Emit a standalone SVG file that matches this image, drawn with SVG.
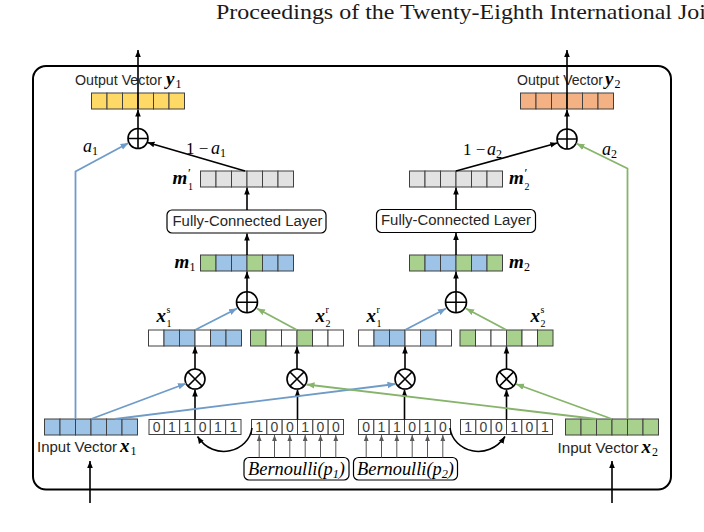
<svg xmlns="http://www.w3.org/2000/svg" width="704" height="532" viewBox="0 0 704 532">
<defs>
<style>
.c{stroke:#404040;stroke-width:1}
.b{fill:#9DC3E6}.g{fill:#A9D18E}.w{fill:#fff}.gy{fill:#E2E2E2}.au{fill:#FFD966}.or{fill:#F4B183}
.sans{font-family:"Liberation Sans",Arial,sans-serif;font-size:14px;fill:#262626}
.dig{font-family:"Liberation Sans",Arial,sans-serif;font-size:14px;fill:#404040;text-anchor:middle}
.mb{font-family:"Liberation Serif","Times New Roman",serif;font-style:italic;font-weight:bold;font-size:19px;fill:#000}
.mi{font-family:"Liberation Serif","Times New Roman",serif;font-style:italic;font-size:18px;fill:#000}
.mr{font-family:"Liberation Serif","Times New Roman",serif;font-size:17px;fill:#000}
.sub{font-family:"Liberation Serif","Times New Roman",serif;font-size:12px;fill:#000}
.ss{font-family:"Liberation Serif","Times New Roman",serif;font-size:10px;fill:#000}
.pr{font-family:"Liberation Serif","Times New Roman",serif;font-size:13px;fill:#000}
.k{stroke:#000;stroke-width:1.6;fill:none}
.bl{stroke:#6E9BC8;stroke-width:1.8;fill:none}
.gl{stroke:#86B46A;stroke-width:1.8;fill:none}
.gr{stroke:#595959;stroke-width:1;fill:none}
.op{fill:#fff;stroke:#000;stroke-width:1.6}
.box{fill:#fff;stroke:#000;stroke-width:1.2}
</style>
<marker id="ak" viewBox="0 0 10 10" refX="10" refY="5" markerWidth="7" markerHeight="7" markerUnits="userSpaceOnUse" orient="auto"><path d="M0,1 L10,5 L0,9 z" fill="#000"/></marker>
<marker id="ab" viewBox="0 0 10 10" refX="10" refY="5" markerWidth="8" markerHeight="8" markerUnits="userSpaceOnUse" orient="auto"><path d="M0,1 L10,5 L0,9 z" fill="#6E9BC8"/></marker>
<marker id="ag" viewBox="0 0 10 10" refX="10" refY="5" markerWidth="8" markerHeight="8" markerUnits="userSpaceOnUse" orient="auto"><path d="M0,1 L10,5 L0,9 z" fill="#86B46A"/></marker>
<marker id="ay" viewBox="0 0 10 10" refX="10" refY="5" markerWidth="6" markerHeight="6" markerUnits="userSpaceOnUse" orient="auto"><path d="M0,1 L10,5 L0,9 z" fill="#595959"/></marker>
</defs>
<rect width="704" height="532" fill="#fff"/>
<text x="216" y="19" font-family="Liberation Serif, Times New Roman, serif" font-size="21" fill="#1a1a1a" textLength="490" lengthAdjust="spacingAndGlyphs">Proceedings of the Twenty-Eighth International Joi</text>
<rect id="frame" x="33" y="66" width="638" height="423.5" rx="13" fill="none" stroke="#000" stroke-width="2"/>

<g id="out1">
<rect class="c au" x="91.5" y="93" width="15.5" height="16"/><rect class="c au" x="107" y="93" width="15.5" height="16"/><rect class="c au" x="122.5" y="93" width="15.5" height="16"/><rect class="c au" x="138" y="93" width="15.5" height="16"/><rect class="c au" x="153.5" y="93" width="15.5" height="16"/><rect class="c au" x="169" y="93" width="15.5" height="16"/>
<text class="sans" x="75" y="85" textLength="87" lengthAdjust="spacingAndGlyphs">Output Vector</text>
<text class="mb" x="166" y="85">y</text><text class="sub" x="175.5" y="88">1</text>
</g>
<g id="out2">
<rect class="c or" x="520.5" y="93" width="15.5" height="16"/><rect class="c or" x="536" y="93" width="15.5" height="16"/><rect class="c or" x="551.5" y="93" width="15.5" height="16"/><rect class="c or" x="567" y="93" width="15.5" height="16"/><rect class="c or" x="582.5" y="93" width="15.5" height="16"/><rect class="c or" x="598" y="93" width="15.5" height="16"/>
<text class="sans" x="517" y="85" textLength="86" lengthAdjust="spacingAndGlyphs">Output Vector</text>
<text class="mb" x="605" y="85">y</text><text class="sub" x="614.5" y="88">2</text>
</g>

<g id="mp1">
<rect class="c gy" x="200.5" y="171" width="15.5" height="16"/><rect class="c gy" x="216" y="171" width="15.5" height="16"/><rect class="c gy" x="231.5" y="171" width="15.5" height="16"/><rect class="c gy" x="247" y="171" width="15.5" height="16"/><rect class="c gy" x="262.5" y="171" width="15.5" height="16"/><rect class="c gy" x="278" y="171" width="15.5" height="16"/>
<text class="mb" x="172.5" y="184">m</text><text class="pr" x="188" y="177">′</text><text class="ss" x="188" y="190">1</text>
</g>
<g id="mp2">
<rect class="c gy" x="409.5" y="171" width="15.5" height="16"/><rect class="c gy" x="425" y="171" width="15.5" height="16"/><rect class="c gy" x="440.5" y="171" width="15.5" height="16"/><rect class="c gy" x="456" y="171" width="15.5" height="16"/><rect class="c gy" x="471.5" y="171" width="15.5" height="16"/><rect class="c gy" x="487" y="171" width="15.5" height="16"/>
<text class="mb" x="509" y="184">m</text><text class="pr" x="524.5" y="177">′</text><text class="ss" x="524.5" y="190">2</text>
</g>

<g id="fc1"><rect class="box" x="167" y="210" width="159" height="23" rx="5"/><text class="sans" x="172.5" y="225.5" textLength="150" lengthAdjust="spacingAndGlyphs">Fully-Connected Layer</text></g>
<g id="fc2"><rect class="box" x="376.5" y="209.5" width="159" height="23" rx="5"/><text class="sans" x="381" y="225" textLength="150" lengthAdjust="spacingAndGlyphs">Fully-Connected Layer</text></g>

<g id="m1">
<rect class="c g" x="200.5" y="255" width="15.5" height="16"/><rect class="c b" x="216" y="255" width="15.5" height="16"/><rect class="c b" x="231.5" y="255" width="15.5" height="16"/><rect class="c g" x="247" y="255" width="15.5" height="16"/><rect class="c b" x="262.5" y="255" width="15.5" height="16"/><rect class="c b" x="278" y="255" width="15.5" height="16"/>
<text class="mb" x="174.5" y="268">m</text><text class="sub" x="189.5" y="271">1</text>
</g>
<g id="m2">
<rect class="c g" x="409.5" y="255" width="15.5" height="16"/><rect class="c b" x="425" y="255" width="15.5" height="16"/><rect class="c b" x="440.5" y="255" width="15.5" height="16"/><rect class="c g" x="456" y="255" width="15.5" height="16"/><rect class="c b" x="471.5" y="255" width="15.5" height="16"/><rect class="c g" x="487" y="255" width="15.5" height="16"/>
<text class="mb" x="509" y="268">m</text><text class="sub" x="524" y="271">2</text>
</g>

<g id="x1s">
<rect class="c w" x="148.5" y="330" width="15.5" height="16"/><rect class="c b" x="164" y="330" width="15.5" height="16"/><rect class="c b" x="179.5" y="330" width="15.5" height="16"/><rect class="c w" x="195" y="330" width="15.5" height="16"/><rect class="c b" x="210.5" y="330" width="15.5" height="16"/><rect class="c b" x="226" y="330" width="15.5" height="16"/>
<text class="mb" x="156.5" y="322">x</text><text class="ss" x="166.5" y="313">s</text><text class="ss" x="166.5" y="327">1</text>
</g>
<g id="x2r">
<rect class="c g" x="250.5" y="330" width="15.5" height="16"/><rect class="c w" x="266" y="330" width="15.5" height="16"/><rect class="c w" x="281.5" y="330" width="15.5" height="16"/><rect class="c g" x="297" y="330" width="15.5" height="16"/><rect class="c w" x="312.5" y="330" width="15.5" height="16"/><rect class="c w" x="328" y="330" width="15.5" height="16"/>
<text class="mb" x="315.5" y="322">x</text><text class="ss" x="325.5" y="313">r</text><text class="ss" x="325.5" y="327">2</text>
</g>
<g id="x1r">
<rect class="c w" x="358.5" y="330" width="15.5" height="16"/><rect class="c b" x="374" y="330" width="15.5" height="16"/><rect class="c b" x="389.5" y="330" width="15.5" height="16"/><rect class="c w" x="405" y="330" width="15.5" height="16"/><rect class="c b" x="420.5" y="330" width="15.5" height="16"/><rect class="c w" x="436" y="330" width="15.5" height="16"/>
<text class="mb" x="366.5" y="322">x</text><text class="ss" x="376.5" y="313">r</text><text class="ss" x="376.5" y="327">1</text>
</g>
<g id="x2s">
<rect class="c g" x="460" y="330" width="15.5" height="16"/><rect class="c w" x="475.5" y="330" width="15.5" height="16"/><rect class="c w" x="491" y="330" width="15.5" height="16"/><rect class="c g" x="506.5" y="330" width="15.5" height="16"/><rect class="c w" x="522" y="330" width="15.5" height="16"/><rect class="c g" x="537.5" y="330" width="15.5" height="16"/>
<text class="mb" x="530.5" y="322">x</text><text class="ss" x="540.5" y="313">s</text><text class="ss" x="540.5" y="327">2</text>
</g>

<g id="mask1">
<rect class="c w" x="149" y="419.5" width="15.33" height="15"/><rect class="c w" x="164.33" y="419.5" width="15.33" height="15"/><rect class="c w" x="179.67" y="419.5" width="15.33" height="15"/><rect class="c w" x="195" y="419.5" width="15.33" height="15"/><rect class="c w" x="210.33" y="419.5" width="15.33" height="15"/><rect class="c w" x="225.67" y="419.5" width="15.33" height="15"/>
<text class="dig" x="156.7" y="432">0</text><text class="dig" x="172" y="432">1</text><text class="dig" x="187.3" y="432">1</text><text class="dig" x="202.7" y="432">0</text><text class="dig" x="218" y="432">1</text><text class="dig" x="233.3" y="432">1</text>
</g>
<g id="mask2">
<rect class="c w" x="251.5" y="419.5" width="15.33" height="15"/><rect class="c w" x="266.83" y="419.5" width="15.33" height="15"/><rect class="c w" x="282.17" y="419.5" width="15.33" height="15"/><rect class="c w" x="297.5" y="419.5" width="15.33" height="15"/><rect class="c w" x="312.83" y="419.5" width="15.33" height="15"/><rect class="c w" x="328.17" y="419.5" width="15.33" height="15"/>
<text class="dig" x="259.2" y="432">1</text><text class="dig" x="274.5" y="432">0</text><text class="dig" x="289.8" y="432">0</text><text class="dig" x="305.2" y="432">1</text><text class="dig" x="320.5" y="432">0</text><text class="dig" x="335.8" y="432">0</text>
</g>
<g id="mask3">
<rect class="c w" x="358.5" y="419.5" width="15.33" height="15"/><rect class="c w" x="373.83" y="419.5" width="15.33" height="15"/><rect class="c w" x="389.17" y="419.5" width="15.33" height="15"/><rect class="c w" x="404.5" y="419.5" width="15.33" height="15"/><rect class="c w" x="419.83" y="419.5" width="15.33" height="15"/><rect class="c w" x="435.17" y="419.5" width="15.33" height="15"/>
<text class="dig" x="366.2" y="432">0</text><text class="dig" x="381.5" y="432">1</text><text class="dig" x="396.8" y="432">1</text><text class="dig" x="412.2" y="432">0</text><text class="dig" x="427.5" y="432">1</text><text class="dig" x="442.8" y="432">0</text>
</g>
<g id="mask4">
<rect class="c w" x="460.5" y="419.5" width="15.33" height="15"/><rect class="c w" x="475.83" y="419.5" width="15.33" height="15"/><rect class="c w" x="491.17" y="419.5" width="15.33" height="15"/><rect class="c w" x="506.5" y="419.5" width="15.33" height="15"/><rect class="c w" x="521.83" y="419.5" width="15.33" height="15"/><rect class="c w" x="537.17" y="419.5" width="15.33" height="15"/>
<text class="dig" x="468.2" y="432">1</text><text class="dig" x="483.5" y="432">0</text><text class="dig" x="498.8" y="432">0</text><text class="dig" x="514.2" y="432">1</text><text class="dig" x="529.5" y="432">0</text><text class="dig" x="544.8" y="432">1</text>
</g>

<g id="in1">
<rect class="c b" x="44.5" y="419" width="15.5" height="16"/><rect class="c b" x="60" y="419" width="15.5" height="16"/><rect class="c b" x="75.5" y="419" width="15.5" height="16"/><rect class="c b" x="91" y="419" width="15.5" height="16"/><rect class="c b" x="106.5" y="419" width="15.5" height="16"/><rect class="c b" x="122" y="419" width="15.5" height="16"/>
<text class="sans" x="37" y="452" textLength="80" lengthAdjust="spacingAndGlyphs">Input Vector</text>
<text class="mb" x="120" y="452">x</text><text class="sub" x="130.5" y="455">1</text>
</g>
<g id="in2">
<rect class="c g" x="565.5" y="419" width="15.5" height="16"/><rect class="c g" x="581" y="419" width="15.5" height="16"/><rect class="c g" x="596.5" y="419" width="15.5" height="16"/><rect class="c g" x="612" y="419" width="15.5" height="16"/><rect class="c g" x="627.5" y="419" width="15.5" height="16"/><rect class="c g" x="643" y="419" width="15.5" height="16"/>
<text class="sans" x="557.5" y="453" textLength="81" lengthAdjust="spacingAndGlyphs">Input Vector</text>
<text class="mb" x="641.5" y="453">x</text><text class="sub" x="652" y="456">2</text>
</g>

<g id="bern1"><rect class="box" x="244" y="457.5" width="105" height="22.5" rx="5"/><text class="mi" x="248" y="474.5" textLength="97" lengthAdjust="spacingAndGlyphs">Bernoulli(p<tspan class="sub" dy="3">1</tspan><tspan dy="-3">)</tspan></text></g>
<g id="bern2"><rect class="box" x="353.5" y="457.5" width="104" height="22.5" rx="5"/><text class="mi" x="357" y="474.5" textLength="97" lengthAdjust="spacingAndGlyphs">Bernoulli(p<tspan class="sub" dy="3">2</tspan><tspan dy="-3">)</tspan></text></g>

<g id="ops">
<g id="plusTop1"><circle class="op" cx="138" cy="138.5" r="10"/><path class="k" d="M128,138.5 H148 M138,128.5 V148.5"/></g>
<g id="plusTop2"><circle class="op" cx="567" cy="139" r="10"/><path class="k" d="M557,139 H577 M567,129 V149"/></g>
<g id="plusMid1"><circle class="op" cx="247" cy="302.3" r="10.5"/><path class="k" d="M236.5,302.3 H257.5 M247,291.8 V312.8"/></g>
<g id="plusMid2"><circle class="op" cx="456" cy="302.3" r="10.5"/><path class="k" d="M445.5,302.3 H466.5 M456,291.8 V312.8"/></g>
<g id="mul1"><circle class="op" cx="195" cy="379" r="10"/><path class="k" d="M188,372 L202,386 M202,372 L188,386"/></g>
<g id="mul2"><circle class="op" cx="297" cy="379" r="10"/><path class="k" d="M290,372 L304,386 M304,372 L290,386"/></g>
<g id="mul3"><circle class="op" cx="405" cy="379" r="10"/><path class="k" d="M398,372 L412,386 M412,372 L398,386"/></g>
<g id="mul4"><circle class="op" cx="506.5" cy="379" r="10"/><path class="k" d="M499.5,372 L513.5,386 M513.5,372 L499.5,386"/></g>
</g>

<g id="connectors">
<line class="k" x1="138" y1="109" x2="138" y2="50" marker-end="url(#ak)"/>
<line class="k" x1="567" y1="109" x2="567" y2="50" marker-end="url(#ak)"/>
<line class="k" x1="138" y1="128.5" x2="138" y2="109.5" marker-end="url(#ak)"/>
<line class="k" x1="567" y1="129" x2="567" y2="109.5" marker-end="url(#ak)"/>
<line class="k" x1="245" y1="171" x2="147.5" y2="142.5" marker-end="url(#ak)"/>
<line class="k" x1="456" y1="171" x2="557.3" y2="143" marker-end="url(#ak)"/>
<polyline class="bl" points="75.5,419 75.5,171.5 128.5,143" marker-end="url(#ab)"/>
<polyline class="gl" points="627.5,419 627.5,168.5 576.5,143.5" marker-end="url(#ag)"/>
<line class="k" x1="247" y1="210" x2="247" y2="187.5" marker-end="url(#ak)"/>
<line class="k" x1="456" y1="209.5" x2="456" y2="187.5" marker-end="url(#ak)"/>
<line class="k" x1="247" y1="255" x2="247" y2="233.5" marker-end="url(#ak)"/>
<line class="k" x1="456" y1="255" x2="456" y2="233" marker-end="url(#ak)"/>
<line class="k" x1="247" y1="291.8" x2="247" y2="271.5" marker-end="url(#ak)"/>
<line class="k" x1="456" y1="291.8" x2="456" y2="271.5" marker-end="url(#ak)"/>
<line class="bl" x1="195" y1="330" x2="237" y2="308.5" marker-end="url(#ab)"/>
<line class="gl" x1="297" y1="330" x2="257" y2="308.5" marker-end="url(#ag)"/>
<line class="bl" x1="405" y1="330" x2="446" y2="308.5" marker-end="url(#ab)"/>
<line class="gl" x1="506.5" y1="330" x2="466" y2="308.5" marker-end="url(#ag)"/>
<line class="k" x1="195" y1="369" x2="195" y2="346.5" marker-end="url(#ak)"/>
<line class="k" x1="297" y1="369" x2="297" y2="346.5" marker-end="url(#ak)"/>
<line class="k" x1="405" y1="369" x2="405" y2="346.5" marker-end="url(#ak)"/>
<line class="k" x1="506.5" y1="369" x2="506.5" y2="346.5" marker-end="url(#ak)"/>
<line class="k" x1="195" y1="419.5" x2="195" y2="389.5" marker-end="url(#ak)"/>
<line class="k" x1="297.5" y1="419.5" x2="297.5" y2="389.5" marker-end="url(#ak)"/>
<line class="k" x1="404.5" y1="419.5" x2="404.5" y2="389.5" marker-end="url(#ak)"/>
<line class="k" x1="506.5" y1="419.5" x2="506.5" y2="389.5" marker-end="url(#ak)"/>
<line class="bl" x1="91" y1="419" x2="186" y2="383.5" marker-end="url(#ab)"/>
<line class="bl" x1="115" y1="419" x2="395.5" y2="384" marker-end="url(#ab)"/>
<line class="gl" x1="612" y1="419" x2="516" y2="384" marker-end="url(#ag)"/>
<line class="gl" x1="596.5" y1="419" x2="306.5" y2="384.5" marker-end="url(#ag)"/>
<path class="k" d="M252,428 C249,452 214,462 197.5,436.5" stroke-width="1.2" marker-end="url(#ak)"/>
<path class="k" d="M450,428 C453,452 488,462 505,436.5" stroke-width="1.2" marker-end="url(#ak)"/>
<line class="k" x1="90" y1="503" x2="90" y2="461" marker-end="url(#ak)"/>
<line class="k" x1="612" y1="503" x2="612" y2="461" marker-end="url(#ak)"/>
<g class="gr">
<line x1="259.2" y1="457.5" x2="259.2" y2="435" marker-end="url(#ay)"/><line x1="274.5" y1="457.5" x2="274.5" y2="435" marker-end="url(#ay)"/><line x1="289.8" y1="457.5" x2="289.8" y2="435" marker-end="url(#ay)"/><line x1="305.2" y1="457.5" x2="305.2" y2="435" marker-end="url(#ay)"/><line x1="320.5" y1="457.5" x2="320.5" y2="435" marker-end="url(#ay)"/><line x1="335.8" y1="457.5" x2="335.8" y2="435" marker-end="url(#ay)"/>
<line x1="366.2" y1="457.5" x2="366.2" y2="435" marker-end="url(#ay)"/><line x1="381.5" y1="457.5" x2="381.5" y2="435" marker-end="url(#ay)"/><line x1="396.8" y1="457.5" x2="396.8" y2="435" marker-end="url(#ay)"/><line x1="412.2" y1="457.5" x2="412.2" y2="435" marker-end="url(#ay)"/><line x1="427.5" y1="457.5" x2="427.5" y2="435" marker-end="url(#ay)"/><line x1="442.8" y1="457.5" x2="442.8" y2="435" marker-end="url(#ay)"/>
</g>
</g>

<g id="labels">
<text class="mi" x="83" y="152">a</text><text class="sub" x="92" y="155">1</text>
<text class="mr" x="186" y="154">1 − </text><text class="mi" x="211" y="154">a</text><text class="sub" x="220" y="157">1</text>
<text class="mr" x="463" y="155">1 − </text><text class="mi" x="487" y="155">a</text><text class="sub" x="496" y="158">2</text>
<text class="mi" x="602" y="155">a</text><text class="sub" x="611" y="158">2</text>
</g>
</svg>
